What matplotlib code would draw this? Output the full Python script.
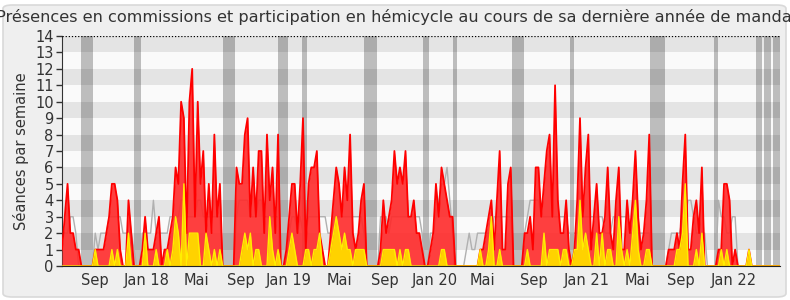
import numpy as np
import matplotlib
matplotlib.use('Agg')
import matplotlib.pyplot as plt
from matplotlib.patches import FancyBboxPatch

# Weekly values (week index 0 = late June 2017)
presences = [
    1, 3, 5, 2, 2, 1, 1, 0, 0, 0,
    0, 0, 1, 1, 1, 1, 2, 3, 5, 5,
    4, 1, 0, 0, 4, 2, 0, 0, 0, 1,
    3, 1, 1, 1, 2, 3, 0, 1, 1, 2,
    3, 6, 5, 10, 9, 2, 10, 12, 3, 10,
    5, 7, 2, 5, 2, 8, 3, 5, 0, 0,
    0, 0, 0, 6, 5, 5, 8, 9, 3, 6,
    3, 7, 7, 2, 8, 4, 6, 2, 8, 0,
    0, 1, 3, 5, 5, 2, 5, 9, 1, 5,
    6, 6, 7, 2, 1, 0, 0, 2, 4, 6,
    5, 3, 6, 4, 8, 2, 1, 2, 4, 5,
    0, 0, 0, 0, 0, 1, 4, 2, 3, 4,
    7, 5, 6, 5, 7, 3, 3, 4, 2, 2,
    1, 0, 0, 1, 2, 5, 3, 6, 5, 4,
    3, 3, 0, 0, 0, 0, 0, 0, 0, 0,
    0, 1, 1, 2, 3, 4, 1, 4, 7, 1,
    1, 5, 6, 0, 0, 0, 0, 2, 2, 3,
    1, 6, 6, 3, 5, 7, 8, 3, 11, 4,
    2, 2, 4, 1, 0, 1, 4, 9, 3, 6,
    8, 1, 3, 5, 2, 2, 3, 6, 2, 1,
    4, 6, 1, 1, 4, 2, 4, 7, 3, 1,
    2, 4, 8, 0, 0, 0, 0, 0, 0, 1,
    1, 1, 2, 1, 5, 8, 1, 1, 3, 4,
    2, 6, 0, 0, 0, 0, 0, 1, 1, 5,
    5, 4, 0, 1, 0, 0, 0, 0, 1, 0,
    0, 0, 0, 0, 0, 0, 0, 0, 0, 0,
]

participations = [
    0, 0, 0, 0, 0, 0, 0, 0, 0, 0,
    0, 0, 1, 0, 0, 0, 0, 0, 1, 0,
    1, 0, 0, 0, 2, 0, 0, 0, 0, 0,
    2, 0, 0, 0, 1, 0, 0, 0, 1, 0,
    1, 3, 2, 0, 5, 0, 2, 2, 2, 2,
    0, 0, 2, 1, 0, 1, 0, 1, 0, 0,
    0, 0, 0, 0, 0, 1, 2, 1, 2, 0,
    1, 1, 0, 0, 0, 3, 1, 0, 1, 0,
    0, 0, 1, 2, 1, 0, 0, 0, 1, 1,
    0, 1, 1, 2, 0, 0, 0, 1, 2, 3,
    2, 1, 2, 1, 1, 0, 1, 1, 1, 1,
    0, 0, 0, 0, 0, 0, 1, 1, 1, 1,
    1, 0, 1, 0, 1, 1, 0, 0, 0, 0,
    0, 0, 0, 0, 0, 0, 0, 1, 1, 0,
    0, 0, 0, 0, 0, 0, 0, 0, 0, 0,
    0, 1, 0, 0, 1, 3, 0, 0, 1, 0,
    0, 0, 0, 0, 0, 0, 0, 0, 1, 0,
    0, 0, 0, 0, 2, 0, 1, 1, 1, 1,
    0, 1, 1, 0, 0, 1, 1, 4, 1, 2,
    1, 0, 0, 2, 0, 2, 0, 1, 1, 0,
    0, 3, 1, 0, 1, 0, 2, 4, 1, 0,
    0, 1, 1, 0, 0, 0, 0, 0, 0, 0,
    0, 0, 1, 1, 2, 5, 0, 0, 0, 1,
    0, 2, 0, 0, 0, 0, 0, 0, 1, 0,
    1, 0, 0, 0, 0, 0, 0, 0, 1, 0,
    0, 0, 0, 0, 0, 0, 0, 0, 0, 0,
]

mediane = [
    2, 2, 2, 3, 3, 2, 0, 0, 0, 0,
    0, 0, 2, 1, 2, 2, 2, 3, 3, 3,
    3, 3, 2, 2, 2, 2, 1, 0, 0, 2,
    2, 2, 2, 4, 2, 2, 2, 2, 2, 3,
    3, 3, 3, 4, 4, 3, 3, 3, 3, 4,
    4, 3, 3, 3, 3, 3, 3, 3, 0, 0,
    0, 0, 0, 3, 4, 4, 4, 4, 3, 3,
    3, 4, 4, 3, 3, 3, 3, 3, 3, 0,
    0, 0, 2, 3, 3, 2, 3, 2, 2, 3,
    3, 3, 3, 3, 3, 3, 2, 2, 3, 3,
    3, 3, 3, 3, 3, 3, 3, 3, 3, 2,
    0, 0, 0, 0, 0, 3, 3, 3, 2, 3,
    3, 3, 3, 3, 3, 3, 3, 3, 3, 3,
    2, 0, 0, 2, 2, 3, 4, 5, 5, 6,
    4, 2, 0, 0, 0, 0, 1, 2, 1, 1,
    2, 2, 2, 2, 2, 2, 3, 3, 3, 3,
    3, 3, 3, 0, 0, 0, 0, 2, 3, 4,
    4, 4, 4, 3, 3, 3, 3, 3, 3, 3,
    3, 3, 3, 2, 2, 2, 2, 2, 3, 3,
    3, 3, 3, 3, 3, 3, 2, 2, 2, 3,
    3, 3, 3, 3, 3, 2, 2, 2, 2, 2,
    2, 2, 2, 0, 0, 0, 0, 0, 0, 1,
    2, 2, 2, 2, 3, 3, 4, 4, 3, 2,
    2, 2, 2, 0, 0, 0, 0, 4, 3, 3,
    2, 2, 3, 3, 0, 0, 0, 0, 0, 0,
    0, 0, 0, 0, 0, 0, 0, 0, 0, 0,
]

# Parliamentary recess periods (start week, end week)
vacances = [(6.9, 11.2), (26.0, 28.5), (58.1, 62.5), (78.0, 81.6), (86.6, 88.4),
            (109.0, 113.7), (130.3, 132.5), (141.2, 142.6), (162.5, 166.8),
            (183.4, 184.8), (212.3, 217.7), (235.4, 236.8), (250.5, 252.7),
            (253.4, 256.0), (256.7, 259.2)]

tick_weeks = [11.9, 30.7, 48.4, 64.6, 81.9, 100.0, 116.6, 134.7, 151.6,
              170.4, 189.5, 207.9, 223.5, 242.6]
tick_labels = ['Sep', 'Jan 18', 'Mai', 'Sep', 'Jan 19', 'Mai', 'Sep', 'Jan 20',
               'Mai', 'Sep', 'Jan 21', 'Mai', 'Sep', 'Jan 22']

title = "Présences en commissions et participation en hémicycle au cours de sa dernière année de mandat"

W, H = 790, 300
fig = plt.figure(figsize=(W / 100, H / 100), dpi=100)
fig.patch.set_facecolor('white')
frame = FancyBboxPatch((3 / W, 3 / H), 783 / W, 292 / H,
                       boxstyle='round,pad=0,rounding_size=0.012',
                       transform=fig.transFigure, facecolor='#efefef',
                       edgecolor='#d9d9d9', lw=1.2, zorder=-10)
fig.patches.append(frame)

ax = fig.add_axes([62 / W, 34 / H, 718 / W, 230 / H])
ax.set_zorder(5)
ax.set_facecolor('#fafafa')

x = np.arange(len(presences))
pres = np.array(presences, dtype=float)
part = np.array(participations, dtype=float)
med = np.array(mediane, dtype=float)

for s, e in vacances:
    ax.axvspan(s, e, color='#bdbdbd', lw=0, zorder=0.5)
for k in range(1, 14, 2):
    ax.axhspan(k, k + 1, color='black', alpha=0.085, lw=0, zorder=1)

ax.plot(x, med, color='#b0b0b0', lw=1.0, zorder=2)
ax.fill_between(x, pres, 0, color='#ff2a2a', alpha=0.9, lw=0, zorder=3)
ax.plot(x, pres, color='#ff0000', lw=1.3, zorder=4)
ax.fill_between(x, part, 0, color='#ffd200', lw=0, zorder=5)
ax.plot(x, part, color='#ffee00', lw=1.0, zorder=6)

ax.axhline(14, color='black', ls=(0, (1, 1.5)), lw=0.9, zorder=7)

ax.set_xlim(0, 259.2)
ax.set_ylim(0, 14)
ax.set_yticks(range(0, 15))
ax.set_xticks(tick_weeks)
ax.set_xticklabels(tick_labels)
ax.tick_params(axis='y', length=4, width=1, color='#333333', labelsize=10.5,
               labelcolor='#333333', pad=2)
ax.tick_params(axis='x', length=0, labelsize=10.5, labelcolor='#333333', pad=5)
for sp in ['top', 'right']:
    ax.spines[sp].set_visible(False)
ax.spines['left'].set_color('#333333')
ax.spines['bottom'].set_color('#222222')
ax.spines['bottom'].set_zorder(8)
ax.set_ylabel('Séances par semaine', fontsize=10.5, color='#333333', labelpad=4)

fig.text(0.503, 1 - 17 / H, title, ha='center', va='center', fontsize=11.6,
         color='#333333')

fig.savefig('out.png', dpi=100, facecolor=fig.get_facecolor())
